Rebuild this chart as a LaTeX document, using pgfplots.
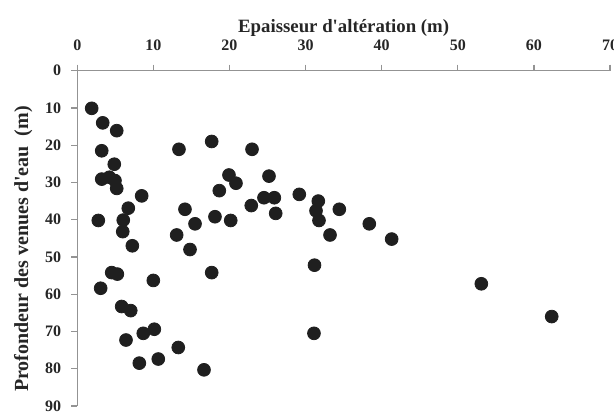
\documentclass[border=0pt]{standalone}
\usepackage{fontspec}
\setmainfont{Liberation Serif}[Ligatures=TeXOff]
\usepackage{pgfplots}
\pgfplotsset{compat=1.18}
\begin{document}
\begin{tikzpicture}
\path[use as bounding box] (-38.65pt,-172.15pt) rectangle (268.35pt,35.35pt);
\begin{axis}[
 at={(0,0)}, anchor=north west,
 scale only axis, width=266.35pt, height=167.65pt,
 xmin=0,xmax=70,ymin=0,ymax=90,
 y dir=reverse,
 axis x line=top, axis y line=left,
 tick align=outside, major tick length=3pt,
 xtick={0,10,...,70}, ytick={0,10,...,90},
 axis line style={-, draw=gray!85, line width=0.6pt},
 tick style={draw=gray!85, line width=0.6pt},
 ticklabel style={font=\bfseries\fontsize{8}{9}\selectfont, text=black!85},
 xticklabel style={yshift=3.5pt},
 yticklabel style={xshift=-1.5pt},
 /pgf/number format/assume math mode=true,
 xlabel={Epaisseur d'altération (m)},
 ylabel={Profondeur des venues d'eau\ \ (m)},
 label style={font=\bfseries\fontsize{9.4}{11}\selectfont, text=black!85},
 xlabel style={at={(axis description cs:0.5,1.127)}, anchor=center},
 ylabel style={at={(axis description cs:-0.1015,0.468)}, anchor=center, font=\bfseries\fontsize{10}{12}\selectfont},
 clip=false,
]
\addplot[only marks, mark=*, mark size=3.2pt, mark options={fill=black!88, draw=black!88}] coordinates {
(1.89,10.1) (3.34,14.0) (5.18,16.1) (3.21,21.5) (4.86,25.1) (3.21,29.1) (4.21,28.6) (4.95,29.5)
(5.18,31.6) (8.46,33.6) (6.70,36.9) (2.76,40.2) (6.04,40.1) (5.97,43.2) (7.23,47.0)
(13.36,21.1) (17.66,19.0) (22.96,21.1) (19.93,28.0) (20.85,30.2) (18.66,32.2) (14.15,37.2)
(22.86,36.2) (18.09,39.2) (20.16,40.2) (15.47,41.1) (13.06,44.1) (14.81,48.0)
(25.19,28.3) (24.53,34.1) (25.89,34.1) (26.07,38.3) (29.17,33.2) (31.67,35.0) (31.37,37.6)
(31.76,40.2) (34.43,37.2) (33.21,44.1) (38.37,41.1) (41.31,45.2) (31.17,52.2) (31.10,70.5)
(53.09,57.2) (62.34,66.0) (4.52,54.2) (5.26,54.6) (9.99,56.3) (17.66,54.2) (3.07,58.4)
(5.83,63.3) (7.02,64.4) (8.67,70.5) (10.12,69.4) (6.40,72.3) (13.27,74.3) (8.15,78.5)
(10.64,77.4) (16.65,80.3)
};
\end{axis}
\end{tikzpicture}
\end{document}
